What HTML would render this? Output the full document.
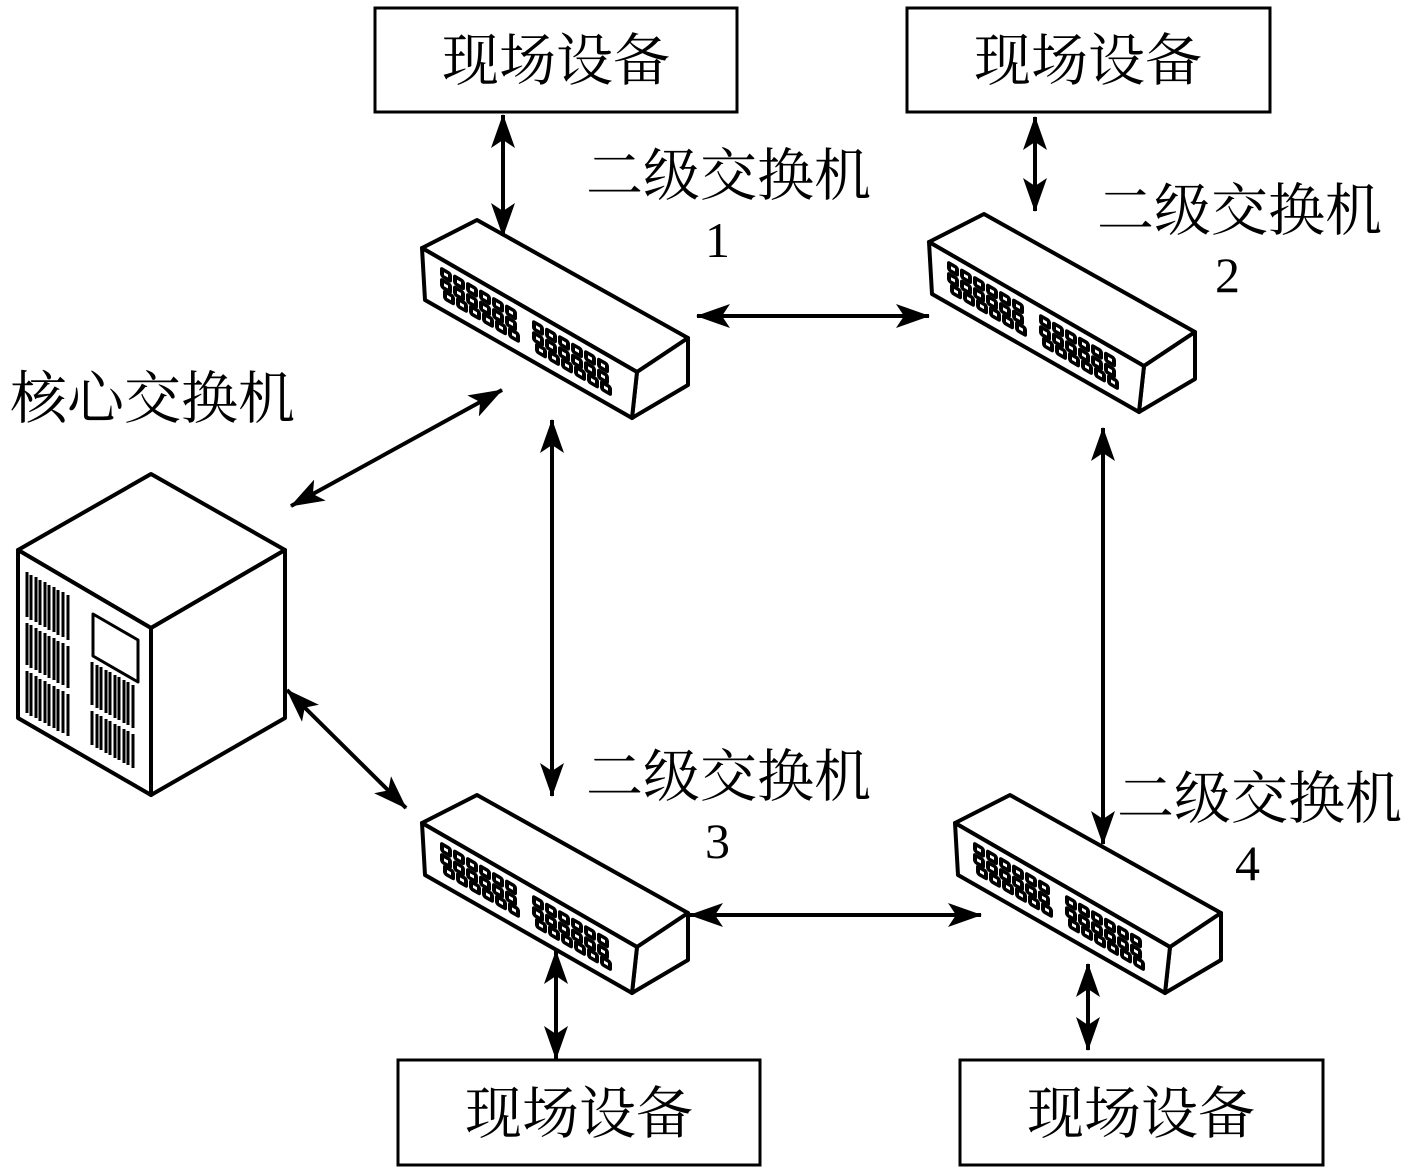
<!DOCTYPE html>
<html><head><meta charset="utf-8"><style>
html,body{margin:0;padding:0;background:#fff;}
svg{display:block;}
text{font-family:"Liberation Serif","Noto Serif CJK SC","Noto Sans CJK SC",serif;fill:#000;}
</style></head><body>
<svg width="1417" height="1174" viewBox="0 0 1417 1174" xmlns="http://www.w3.org/2000/svg">
<defs>
<marker id="ah" viewBox="0 0 34 24" refX="33" refY="12" markerWidth="34" markerHeight="24" markerUnits="userSpaceOnUse" orient="auto-start-reverse">
<path d="M0,0 L34,12 L0,24 L8,12 Z" fill="#000"/>
</marker>
<g id="row">
<rect x="0" y="0" width="12" height="11" rx="3"/><rect x="13" y="0" width="12" height="11" rx="3"/><rect x="26" y="0" width="12" height="11" rx="3"/><rect x="39" y="0" width="12" height="11" rx="3"/><rect x="52" y="0" width="12" height="11" rx="3"/><rect x="65" y="0" width="12" height="11" rx="3"/>
</g>
<g id="holes">
<rect x="4" y="4" width="4" height="3"/><rect x="17" y="4" width="4" height="3"/><rect x="30" y="4" width="4" height="3"/><rect x="43" y="4" width="4" height="3"/><rect x="56" y="4" width="4" height="3"/><rect x="69" y="4" width="4" height="3"/>
</g>
<g id="ports">
<g fill="#000">
<use href="#row" transform="translate(0,0)"/>
<use href="#row" transform="translate(0,11)"/>
<use href="#row" transform="translate(3,21)"/>
</g>
<g fill="#fff">
<use href="#holes" transform="translate(0,0)"/>
<use href="#holes" transform="translate(0,11)"/>
<use href="#holes" transform="translate(3,21)"/>
</g>
</g>
<g id="sw" stroke="#000" stroke-width="4" stroke-linejoin="round" fill="#fff">
<path d="M422,248 L477,220 L688,338 L637,372 Z"/>
<path d="M637,372 L688,338 L688,385 L632,418 Z"/>
<path d="M422,248 L637,372 L632,418 L425,300 Z"/>
<g transform="matrix(1,0.577,0,1,0,0)" stroke="none">
<use href="#ports" transform="translate(440,12)"/>
<use href="#ports" transform="translate(532,12)"/>
</g>
</g>
</defs>

<g fill="#fff" stroke="#000" stroke-width="3">
<rect x="375" y="8" width="362" height="104"/>
<rect x="907" y="8" width="363" height="104"/>
<rect x="398" y="1060" width="362" height="105"/>
<rect x="960" y="1060" width="363" height="105"/>
</g>
<g font-size="57" text-anchor="middle">
<text x="556" y="80">现场设备</text>
<text x="1088" y="80">现场设备</text>
<text x="579" y="1133">现场设备</text>
<text x="1141" y="1133">现场设备</text>
</g>

<use href="#sw"/>
<use href="#sw" transform="translate(507,-6)"/>
<use href="#sw" transform="translate(0,575)"/>
<use href="#sw" transform="translate(533,575)"/>

<g stroke="#000" stroke-width="4" stroke-linejoin="round" fill="#fff">
<path d="M18,550 L151,474 L285,550 L151,628 Z"/>
<path d="M151,628 L285,550 L285,718 L151,795 Z"/>
<path d="M18,550 L151,628 L151,795 L18,718 Z"/>
<path d="M93,614 L138,640 L138,682 L93,656 Z" stroke-width="3"/>
</g>
<g stroke="#000" stroke-width="3">
<path d="M27,572 V617 M31,575 V620 M36,577 V622 M40,580 V625 M45,582 V627 M49,585 V630 M54,587 V632 M58,590 V635 M63,592 V637 M68,595 V640
M27,623 V665 M31,625 V668 M36,628 V670 M40,631 V673 M45,633 V675 M49,636 V678 M54,638 V680 M58,641 V683 M63,643 V685 M68,646 V688
M27,671 V713 M31,673 V716 M36,676 V718 M40,679 V721 M45,681 V723 M49,684 V726 M54,686 V728 M58,689 V731 M63,691 V733 M68,694 V736
M92,662 V705 M97,665 V708 M101,667 V710 M106,670 V713 M110,672 V715 M115,675 V718 M119,677 V720 M124,680 V723 M128,682 V725 M133,685 V728
M92,711 V745 M97,714 V748 M101,716 V750 M106,719 V753 M110,721 V755 M115,724 V758 M119,726 V760 M124,729 V763 M128,731 V765 M133,734 V768"/>
</g>

<g stroke="#000" stroke-width="4" fill="none" marker-start="url(#ah)" marker-end="url(#ah)">
<line x1="503" y1="115" x2="503" y2="236"/>
<line x1="1035" y1="117" x2="1035" y2="211"/>
<line x1="697" y1="316" x2="929" y2="316"/>
<line x1="291" y1="506" x2="502" y2="390"/>
<line x1="287" y1="690" x2="406" y2="808"/>
<line x1="552" y1="420" x2="552" y2="796"/>
<line x1="1103" y1="428" x2="1103" y2="844"/>
<line x1="690" y1="915" x2="981" y2="915"/>
<line x1="556" y1="951" x2="556" y2="1059"/>
<line x1="1088" y1="964" x2="1088" y2="1050"/>
</g>

<g font-size="57">
<text x="586" y="195">二级交换机</text>
<text x="705" y="257" font-size="50">1</text>
<text x="1097" y="230">二级交换机</text>
<text x="1215" y="292" font-size="50">2</text>
<text x="586" y="796">二级交换机</text>
<text x="705" y="858" font-size="50">3</text>
<text x="1117" y="818">二级交换机</text>
<text x="1235" y="880" font-size="50">4</text>
<text x="10" y="418">核心交换机</text>
</g>
</svg>
</body></html>
